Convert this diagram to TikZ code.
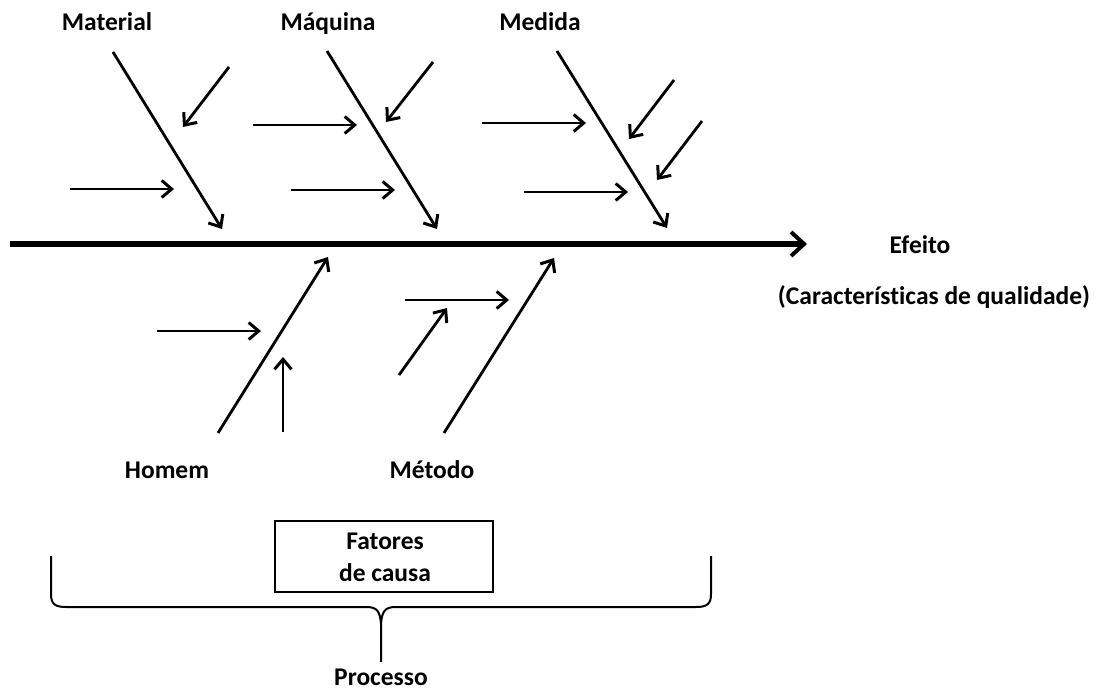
\documentclass[tikz,border=0pt]{standalone}
\usepackage{fontspec}
\setmainfont{Carlito}[Ligatures=NoCommon]
\usetikzlibrary{arrows.meta}
\begin{document}
\begin{tikzpicture}[x=1pt,y=-1pt,
  label/.style={font=\fontsize{25.5}{30}\selectfont\bfseries, inner sep=0pt, anchor=base},
  spine/.style={line width=5.5pt, -{Straight Barb[length=13pt,width=24pt,line width=4pt]}},
  bone/.style={line width=2.8pt, -{Straight Barb[length=10pt,width=17pt,line width=3pt]}},
  twig/.style={line width=2.8pt, -{Straight Barb[length=10pt,width=17pt,line width=3pt]}},
  brace/.style={line width=2pt, line join=round}]
\useasboundingbox (0,0) rectangle (1102,691);

% labels
\node[label] (mat) at (107,30) {Material};
\node[label] (maq) at (328,30) {Máquina};
\node[label] (med) at (540,30) {Medida};
\node[label] (hom) at (167,478) {Homem};
\node[label] (met) at (432,478) {Método};
\node[label] (efe) at (920,253) {Efeito};
\node[label] (car) at (934,304) {(Características de qualidade)};

% spine
\coordinate (s0) at (10,244);
\coordinate (s1) at (807,244);
\draw[spine] (s0) -- (s1);

% upper bones
\coordinate (matA) at (113,52);  \coordinate (matB) at (222,229);
\coordinate (maqA) at (327,51);  \coordinate (maqB) at (437,229);
\coordinate (medA) at (557,51);  \coordinate (medB) at (667,228);
\draw[bone] (matA) -- (matB);
\draw[bone] (maqA) -- (maqB);
\draw[bone] (medA) -- (medB);

% lower bones
\coordinate (homA) at (218,433); \coordinate (homB) at (328,257);
\coordinate (metA) at (444,433); \coordinate (metB) at (554,258);
\draw[bone] (homA) -- (homB);
\draw[bone] (metA) -- (metB);

% sub-causes: Material
\coordinate (t1a) at (229,67);  \coordinate (t1b) at (183,127);
\coordinate (t2a) at (70,189);  \coordinate (t2b) at (174,189);
\draw[twig] (t1a) -- (t1b);
\draw[twig] (t2a) -- (t2b);

% sub-causes: Máquina
\coordinate (t3a) at (433,62);  \coordinate (t3b) at (386,122);
\coordinate (t4a) at (253,125); \coordinate (t4b) at (357,125);
\coordinate (t5a) at (291,190); \coordinate (t5b) at (395,190);
\draw[twig] (t3a) -- (t3b);
\draw[twig] (t4a) -- (t4b);
\draw[twig] (t5a) -- (t5b);

% sub-causes: Medida
\coordinate (t6a) at (674,80);  \coordinate (t6b) at (629,139);
\coordinate (t7a) at (702,121); \coordinate (t7b) at (657,180);
\coordinate (t8a) at (482,123); \coordinate (t8b) at (586,123);
\coordinate (t9a) at (524,192); \coordinate (t9b) at (628,192);
\draw[twig] (t6a) -- (t6b);
\draw[twig] (t7a) -- (t7b);
\draw[twig] (t8a) -- (t8b);
\draw[twig] (t9a) -- (t9b);

% sub-causes: Homem
\coordinate (u1a) at (157,331); \coordinate (u1b) at (261,331);
\coordinate (u2a) at (283,432); \coordinate (u2b) at (283,357);
\draw[twig] (u1a) -- (u1b);
\draw[twig] (u2a) -- (u2b);

% sub-causes: Método
\coordinate (u3a) at (405,300); \coordinate (u3b) at (509,300);
\coordinate (u4a) at (399,375); \coordinate (u4b) at (447,308);
\draw[twig] (u3a) -- (u3b);
\draw[twig] (u4a) -- (u4b);

% cause-factors box
\node[draw, line width=2pt, minimum width=218pt, minimum height=71pt, inner sep=0pt] (box) at (384,556.5) {};
\node[label] (fat) at (385,549) {Fatores};
\node[label] (dec) at (385,581) {de causa};

% process brace
\coordinate (bl) at (51,556);
\coordinate (br) at (711,556);
\coordinate (bt) at (381,662);
\draw[brace] (bl) -- (51,594) .. controls (51,604) and (55,607) .. (66,607)
  -- (366,607) .. controls (377,607) and (380,611) .. (381,624) -- (bt);
\draw[brace] (br) -- (711,594) .. controls (711,604) and (707,607) .. (696,607)
  -- (396,607) .. controls (385,607) and (382,611) .. (381,624);
\node[label] (pro) at (381,685) {Processo};
\end{tikzpicture}
\end{document}
